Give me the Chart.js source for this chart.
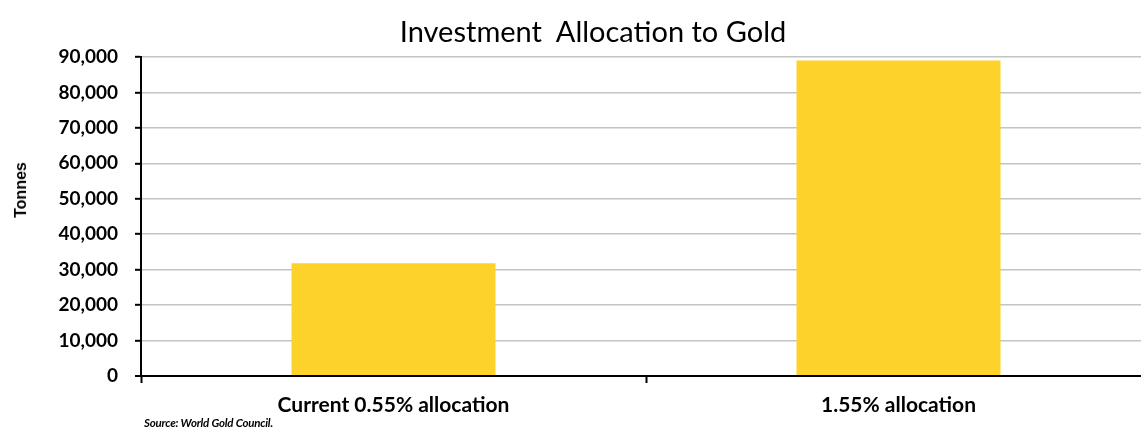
<!DOCTYPE html>
<html>
<head>
<meta charset="utf-8">
<script src="https://cdn.jsdelivr.net/npm/chart.js@4.4.1/dist/chart.umd.min.js"></script>
<style>
  html, body { margin: 0; padding: 0; background: #fff; overflow: hidden; }
  #wrap { position: relative; width: 1160px; height: 434px; }
  #chartTitle {
    position: absolute; left: 343px; top: 13px; width: 500px; text-align: center;
    font: 29px Lato, sans-serif; color: #000; white-space: pre;
  }
  #yTitle {
    position: absolute; left: 21px; top: 190px; transform: translate(-50%, -50%) rotate(-90deg);
    font: bold 16px "Liberation Sans", Arial, sans-serif; color: #000; white-space: nowrap;
  }
  #source {
    position: absolute; left: 144px; top: 416px;
    font: italic bold 11.5px Lato, sans-serif; color: #000; letter-spacing: -0.2px;
  }
</style>
</head>
<body>
<div id="wrap">
  <canvas id="goldChart" width="1160" height="434"></canvas>
  <div id="chartTitle">Investment  Allocation to Gold</div>
  <div id="yTitle">Tonnes</div>
  <div id="source">Source: World Gold Council.</div>
</div>
<script>
// données
const categories = ['Current 0.55% allocation', '1.55% allocation'];
const tonnes = [31800, 89000];
const yTicks = [0, 10000, 20000, 30000, 40000, 50000, 60000, 70000, 80000, 90000];

const barColor = '#FCD22B';
const gridGray = '#c4c4c4';

const ctx = document.getElementById('goldChart').getContext('2d');
new Chart(ctx, {
    type: 'bar',
    data: {
        labels: categories,
        datasets: [{
            data: tonnes,
            backgroundColor: barColor,
            borderWidth: 0,
            categoryPercentage: 1,
            barPercentage: 0.404
        }]
    },
    options: {
        responsive: false,
        animation: false,
        layout: { padding: { top: 57, right: 9, bottom: 0, left: 0 } },
        plugins: {
            legend: { display: false },
            tooltip: { enabled: false },
            title: { display: false }
        },
        scales: {
            x: {
                afterFit: scale => { scale.height = 58; },
                grid: {
                    drawOnChartArea: false,
                    tickLength: 7,
                    tickColor: '#000',
                    tickWidth: 2
                },
                border: { color: '#000', width: 2 },
                ticks: {
                    padding: 10,
                    color: '#000',
                    font: { family: 'Lato', size: 21, weight: 'bold' }
                }
            },
            y: {
                min: 0,
                max: 90000,
                afterFit: scale => { scale.width = 141; },
                afterBuildTicks: scale => { scale.ticks = yTicks.map(v => ({ value: v })); },
                grid: {
                    color: c => c.tick && c.tick.value === 0 ? '#000' : gridGray,
                    lineWidth: c => c.tick && c.tick.value === 0 ? 2 : 1.6,
                    tickLength: 6,
                    tickColor: '#000',
                    tickWidth: 2
                },
                border: { color: '#000', width: 2 },
                ticks: {
                    padding: 17,
                    color: '#000',
                    font: { family: 'Lato', size: 19, weight: 'bold' },
                    callback: v => v.toLocaleString('en-US')
                }
            }
        }
    }
});
</script>
</body>
</html>
